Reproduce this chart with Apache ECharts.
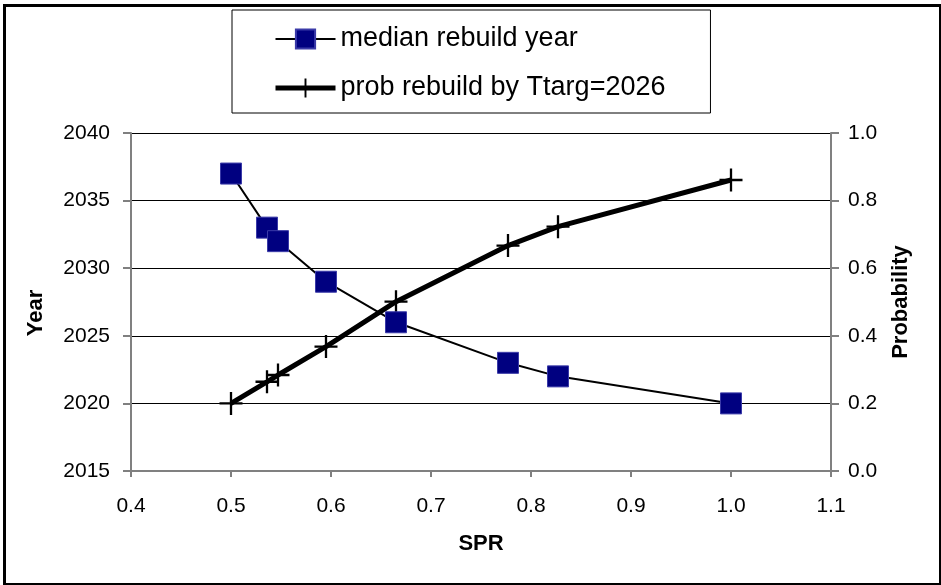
<!DOCTYPE html>
<html>
<head>
<meta charset="utf-8">
<script src="https://cdn.jsdelivr.net/npm/echarts@6/dist/echarts.min.js"></script>
<style>
html,body{margin:0;padding:0;background:#fff;}
#chart{width:941px;height:585px;}
</style>
</head>
<body>
<div id="chart"></div>
<script>
// Data
var sprValues = [0.5, 0.536, 0.547, 0.595, 0.665, 0.777, 0.827, 1.0];
var medianRebuildYear = [2037, 2033, 2032, 2029, 2026, 2023, 2022, 2020];
var probRebuild = [0.20, 0.264, 0.284, 0.368, 0.501, 0.667, 0.723, 0.861];
var seriesNames = ['median rebuild year', 'prob rebuild by Ttarg=2026'];
var xTitle = 'SPR', yLeftTitle = 'Year', yRightTitle = 'Probability';

function pairs(xs, ys) { return xs.map(function (x, i) { return [x, ys[i]]; }); }

var FONT = 'Liberation Sans, Arial, sans-serif';
var plusPath = 'path://M9,0 H11 V9 H20 V11 H11 V20 H9 V11 H0 V9 H9 Z';

var chart = echarts.init(document.getElementById('chart'));
chart.setOption({
  animation: false,
  backgroundColor: '#fff',
  textStyle: { fontFamily: FONT },
  graphic: [{
    type: 'rect', left: 2, top: 3, z: 100, silent: true,
    shape: { x: 0, y: 0, width: 936, height: 579 },
    style: { fill: 'none', stroke: '#000', lineWidth: 3 }
  }],
  legend: {
    orient: 'vertical', left: 232, top: 10,
    padding: [14, 45, 10, 41],
    itemGap: 19, itemWidth: 60, itemHeight: 24,
    backgroundColor: '#fff', borderColor: '#000', borderWidth: 1,
    textStyle: { fontSize: 27, color: '#000', lineHeight: 30, fontFamily: FONT },
    data: [
      { name: seriesNames[0], lineStyle: { width: 2, color: '#000' } },
      { name: seriesNames[1], lineStyle: { width: 5, color: '#000' } }
    ]
  },
  grid: { left: 131, right: 110, top: 133, bottom: 114, containLabel: false },
  xAxis: {
    type: 'value', min: 0.4, max: 1.1, interval: 0.1,
    name: xTitle, nameLocation: 'middle', nameGap: 62,
    nameTextStyle: { fontSize: 22, fontWeight: 'bold', color: '#000', fontFamily: FONT },
    axisLine: { lineStyle: { color: '#808080', width: 2 } },
    axisTick: { show: true, inside: false, length: 6, lineStyle: { color: '#808080', width: 2 } },
    axisLabel: { fontSize: 21, color: '#000', margin: 25, formatter: function (v) { return v.toFixed(1); } },
    splitLine: { show: false }
  },
  yAxis: [{
    type: 'value', min: 2015, max: 2040, interval: 5, position: 'left',
    name: yLeftTitle, nameLocation: 'middle', nameGap: 84, nameRotate: 90,
    nameTextStyle: { fontSize: 22, fontWeight: 'bold', color: '#000', fontFamily: FONT, padding: [0, 22, 0, 0] },
    axisLine: { show: true, lineStyle: { color: '#808080', width: 2 } },
    axisTick: { show: true, length: 8, lineStyle: { color: '#808080', width: 2 } },
    axisLabel: { fontSize: 21, color: '#000', margin: 21, formatter: function (v) { return String(v); } },
    splitLine: { show: true, lineStyle: { color: '#000', width: 1 } }
  }, {
    type: 'value', min: 0, max: 1, interval: 0.2, position: 'right',
    name: yRightTitle, nameLocation: 'middle', nameGap: 59, nameRotate: 90,
    nameTextStyle: { fontSize: 22, fontWeight: 'bold', color: '#000', fontFamily: FONT },
    axisLine: { show: true, lineStyle: { color: '#808080', width: 2 } },
    axisTick: { show: true, length: 8, lineStyle: { color: '#808080', width: 2 } },
    axisLabel: { fontSize: 21, color: '#000', margin: 17, formatter: function (v) { return v.toFixed(1); } },
    splitLine: { show: false }
  }],
  series: [{
    name: seriesNames[0], type: 'line', yAxisIndex: 0,
    data: pairs(sprValues, medianRebuildYear),
    symbol: 'rect', symbolSize: 21, z: 3,
    lineStyle: { color: '#000', width: 2 },
    itemStyle: { color: '#000080', borderColor: '#3a3aa8', borderWidth: 1 }
  }, {
    name: seriesNames[1], type: 'line', yAxisIndex: 1,
    data: pairs(sprValues, probRebuild),
    symbol: plusPath, symbolSize: 23, z: 2,
    lineStyle: { color: '#000', width: 5 },
    itemStyle: { color: '#000' }
  }]
});
</script>
</body>
</html>
